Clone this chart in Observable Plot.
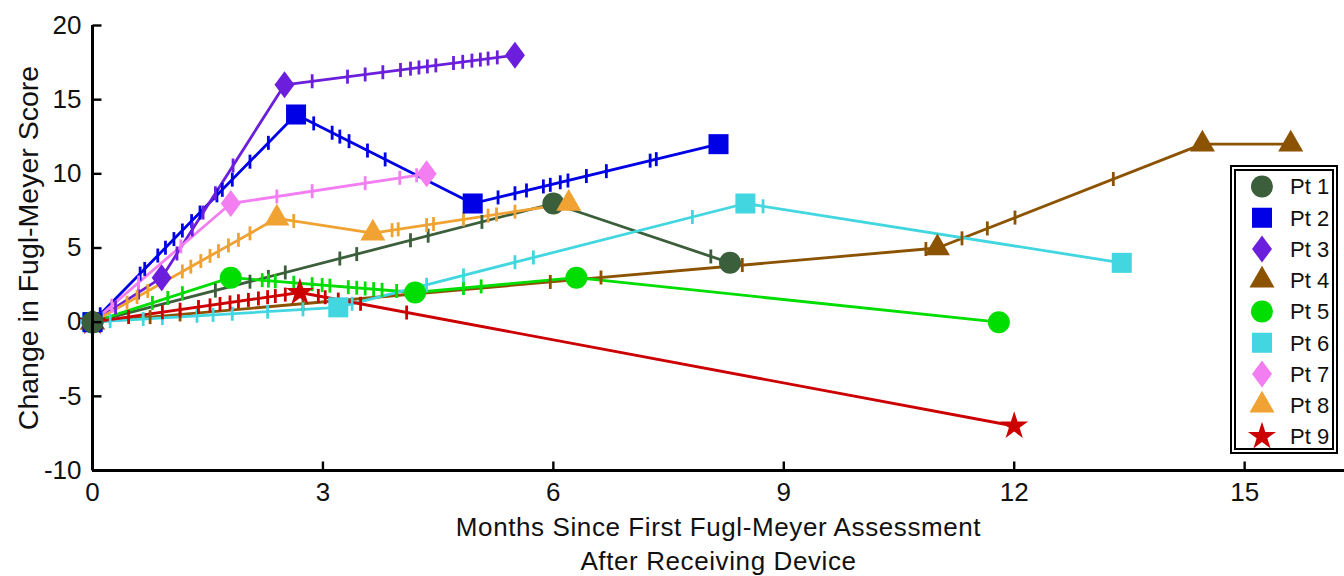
<!DOCTYPE html>
<html><head><meta charset="utf-8">
<script src="https://cdn.jsdelivr.net/npm/d3@7"></script>
<script src="https://cdn.jsdelivr.net/npm/@observablehq/plot@0.6"></script>
<style>
html,body{margin:0;padding:0;background:#fff;}
#wrap{position:relative;width:1344px;height:576px;font-family:"Liberation Sans",Arial,sans-serif;}
#legend{position:absolute;left:1230px;top:165px;width:108px;height:289px;box-sizing:border-box;border:6px double #000;background:#fff;}
</style></head><body><div id="wrap"></div>
<script>
// ---------- data ----------
const patients = ["Pt 1","Pt 2","Pt 3","Pt 4","Pt 5","Pt 6","Pt 7","Pt 8","Pt 9"];
const months = [
  [0, 6.0, 8.3],
  [0, 2.65, 4.95, 8.15],
  [0, 0.9, 2.5, 5.5],
  [0, 11.0, 14.45, 15.6],
  [0, 1.8, 4.2, 6.3, 11.8],
  [0, 3.2, 8.5, 13.4],
  [0, 1.8, 4.35],
  [0, 2.4, 3.65, 6.2],
  [0, 2.7, 12.0]
];
const scores = [
  [0, 8, 4],
  [0, 14, 8, 12],
  [0, 3, 16, 18],
  [0, 5, 12, 12],
  [0, 3, 2, 3, 0],
  [0, 1, 8, 4],
  [0, 8, 10],
  [0, 7, 6, 8],
  [0, 2, -7]
];
// intermediate session ticks along each line
const tickMonths = [
  [1.6, 2.05, 2.29, 2.51, 3.22, 3.44, 4.14, 4.37, 5.07, 8.05],
  [0.1, 0.62, 0.68, 0.85, 0.95, 1.06, 1.17, 1.29, 1.40, 1.62, 1.69, 1.82, 2.05, 2.29, 2.88, 3.12, 3.22, 3.34, 3.58, 3.81, 5.28, 5.50, 5.65, 5.87, 5.96, 6.09, 6.19, 6.43, 6.69, 7.26, 7.34],
  [0.3, 0.6, 1.1, 1.3, 1.44, 1.6, 1.83, 2.86, 3.32, 3.55, 3.78, 4.01, 4.14, 4.25, 4.36, 4.47, 4.70, 4.82, 4.94, 5.05, 5.15, 5.27],
  [0.75, 1.14, 2.74, 5.96, 6.62, 8.46, 10.85, 11.32, 11.65, 12.01, 13.29],
  [0.78, 0.98, 1.17, 2.21, 2.29, 2.38, 2.62, 2.86, 2.99, 3.09, 3.33, 3.44, 3.55, 3.66, 3.77, 3.96, 4.83, 5.06],
  [0.23, 0.66, 0.91, 1.36, 1.57, 1.82, 2.28, 2.74, 3.38, 4.35, 4.83, 5.5, 5.74, 7.81, 8.73],
  [0.25, 0.6, 1.15, 2.4, 2.86, 3.55, 4.0, 4.22],
  [0.45, 0.58, 0.72, 0.91, 1.17, 1.28, 1.41, 1.53, 1.64, 1.77, 1.9, 2.05, 2.62, 3.9, 3.98, 4.35, 4.44, 4.83, 5.15, 5.26, 5.5],
  [0.47, 0.91, 1.14, 1.38, 1.53, 1.66, 1.79, 1.9, 2.03, 2.16, 2.28, 2.38, 2.51, 2.94, 3.03, 3.2, 3.49, 4.09]
];
const tickScores = [
  [2.13, 2.73, 3.05, 3.35, 4.29, 4.59, 5.52, 5.83, 6.76, 4.43],
  [0.53, 3.27, 3.59, 4.49, 5.02, 5.6, 6.18, 6.81, 7.39, 8.55, 8.92, 9.61, 10.82, 12.09, 13.4, 12.77, 12.51, 12.2, 11.57, 10.97, 8.41, 8.69, 8.88, 9.15, 9.26, 9.43, 9.55, 9.85, 10.18, 10.89, 10.99],
  [1.0, 2.0, 4.63, 6.25, 7.39, 8.69, 10.56, 16.24, 16.55, 16.7, 16.85, 17.0, 17.09, 17.17, 17.24, 17.31, 17.47, 17.55, 17.63, 17.7, 17.77, 17.85],
  [0.34, 0.52, 1.25, 2.71, 3.01, 3.85, 4.93, 5.65, 6.32, 7.05, 9.65],
  [1.3, 1.63, 1.95, 2.83, 2.8, 2.76, 2.66, 2.56, 2.5, 2.46, 2.36, 2.32, 2.27, 2.23, 2.18, 2.1, 2.3, 2.41],
  [0.07, 0.21, 0.28, 0.43, 0.49, 0.57, 0.71, 0.86, 1.24, 2.52, 3.15, 4.04, 4.36, 7.09, 7.81],
  [1.11, 2.67, 5.11, 8.47, 8.83, 9.37, 9.73, 9.9],
  [1.31, 1.69, 2.1, 2.66, 3.42, 3.74, 4.12, 4.47, 4.79, 5.17, 5.55, 5.99, 6.82, 6.2, 6.26, 6.55, 6.62, 6.93, 7.18, 7.26, 7.45],
  [0.35, 0.67, 0.84, 1.02, 1.13, 1.23, 1.33, 1.41, 1.5, 1.6, 1.69, 1.76, 1.86, 1.77, 1.68, 1.52, 1.24, 0.65]
];
const xTicks = [0, 3, 6, 9, 12, 15];
const yTicks = [-10, -5, 0, 5, 10, 15, 20];
const xDomain = [0, 16.3];
const yDomain = [-10, 20];
const xTitle = "Months Since First Fugl-Meyer Assessment\nAfter Receiving Device";
const yTitle = "Change in Fugl-Meyer Score";

// ---------- styles ----------
const colors = ["#3b5e3b","#0000e6","#6b1fdc","#8b5200","#00dd00","#42d6e0","#f27ef2","#f0a232","#cc0000"];
const tallDiamond = {draw(ctx) { ctx.moveTo(0, -13.5); ctx.lineTo(10, 0); ctx.lineTo(0, 13.5); ctx.lineTo(-10, 0); ctx.closePath(); }};
const symbolTypes = {circle: d3.symbolCircle, square: d3.symbolSquare, diamond: tallDiamond, triangle: d3.symbolTriangle, star: d3.symbolStar};
const symbols = ["circle","square","diamond","triangle","circle","square","diamond","triangle","star"];
const markerR = [11, 11.3, 8.6, 9.3, 11, 11.3, 8.6, 9.3, 8.8];

const vTick = {draw(ctx) { ctx.moveTo(0, -7); ctx.lineTo(0, 7); }};
const yAxisTick = {draw(ctx) { ctx.moveTo(0, 0); ctx.lineTo(9, 0); }};
const xAxisTick = {draw(ctx) { ctx.moveTo(0, 0); ctx.lineTo(0, -9); }};

const pts = patients.flatMap((p, i) => months[i].map((m, j) => ({p, i, x: m, y: scores[i][j]})));
const tks = patients.flatMap((p, i) => tickMonths[i].map((m, j) => ({p, i, x: m, y: tickScores[i][j]})));

const marks = [];
patients.forEach((p, i) => {
  marks.push(Plot.line(pts.filter(d => d.i === i), {x: "x", y: "y", stroke: colors[i], strokeWidth: 2.8}));
});
patients.forEach((p, i) => {
  marks.push(Plot.dot(tks.filter(d => d.i === i), {x: "x", y: "y", symbol: vTick, stroke: colors[i], fill: "none", strokeWidth: 2.8}));
});
patients.forEach((p, i) => {
  marks.push(Plot.dot(pts.filter(d => d.i === i && d.x > 0), {x: "x", y: "y", symbol: symbolTypes[symbols[i]], r: markerR[i], fill: colors[i], stroke: "none"}));
});
patients.slice().reverse().forEach((p, k) => {
  const i = patients.length - 1 - k;
  marks.push(Plot.dot(pts.filter(d => d.i === i && d.x === 0), {x: "x", y: "y", symbol: symbolTypes[symbols[i]], r: markerR[i], fill: colors[i], stroke: "none"}));
});
// axes
marks.push(Plot.ruleX([xDomain[0]], {y1: yDomain[0], y2: yDomain[1], stroke: "#000", strokeWidth: 3}));
marks.push(Plot.ruleY([yDomain[0]], {stroke: "#000", strokeWidth: 3}));
marks.push(Plot.dot(yTicks, {x: xDomain[0], y: d => d, symbol: yAxisTick, stroke: "#000", fill: "none", strokeWidth: 2.4}));
marks.push(Plot.dot(xTicks, {x: d => d, y: yDomain[0], symbol: xAxisTick, stroke: "#000", fill: "none", strokeWidth: 2.4}));
marks.push(Plot.axisY(yTicks, {tickSize: 0, tickPadding: 11, fontSize: 26, label: null, fill: "#111", tickFormat: d => String(d)}));
marks.push(Plot.axisX(xTicks, {tickSize: 0, tickPadding: 12, fontSize: 26, label: null, fill: "#111", tickFormat: d => String(d)}));
marks.push(Plot.text([yTitle], {frameAnchor: "left", dx: -64, rotate: -90, textAnchor: "middle", lineAnchor: "middle", fontSize: 28.5, fill: "#111"}));
marks.push(Plot.text([xTitle], {frameAnchor: "bottom", dy: 72, textAnchor: "middle", lineAnchor: "middle", lineHeight: 1.3, fontSize: 26, fill: "#111"}));

const chart = Plot.plot({
  width: 1344,
  height: 576,
  marginLeft: 92,
  marginRight: 0,
  marginTop: 25,
  marginBottom: 106,
  style: {fontFamily: "'Liberation Sans', Arial, sans-serif", background: "#fff", overflow: "visible"},
  x: {domain: xDomain, axis: null},
  y: {domain: yDomain, axis: null},
  marks
});
// widen the x-axis title slightly, as in the reference
d3.select(chart).selectAll("text").filter(function() { return this.textContent.startsWith("Months"); })
  .style("letter-spacing", "0.6px");
const wrap = document.getElementById("wrap");
wrap.appendChild(chart);

// legend
const leg = document.createElement("div");
leg.id = "legend";
wrap.appendChild(leg);
const lsvg = d3.select(leg).append("svg").attr("width", 96).attr("height", 277).style("display", "block").style("overflow", "visible");
patients.forEach((p, i) => {
  const g = lsvg.append("g").attr("transform", `translate(26,${15.5 + i * 31.25})`);
  g.append("path").attr("d", d3.symbol().type(symbolTypes[symbols[i]]).size(Math.PI * markerR[i] * markerR[i])()).attr("fill", colors[i]);
  g.append("text").attr("x", 28).attr("dy", "0.36em").attr("font-size", 22).attr("fill", "#111")
    .attr("font-family", "'Liberation Sans', Arial, sans-serif").text(p);
});
</script></body></html>
